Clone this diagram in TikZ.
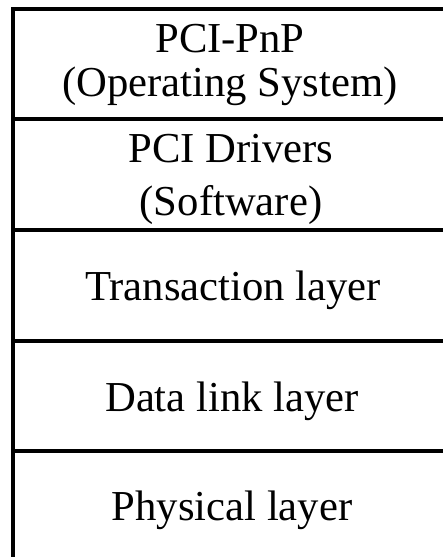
\documentclass[tikz,border=0pt]{standalone}
\usepackage{fontspec}
\setmainfont{Liberation Serif}
\begin{document}
\begin{tikzpicture}[x=0.75pt,y=-0.75pt,
  rule/.style={line width=3.3pt,black},
  label/.style={anchor=base,inner sep=0pt,font=\fontsize{32}{36}\selectfont}]
\useasboundingbox (0,0) rectangle (443,557);
% outer frame: top edge and left edge of the stack
\draw[rule] (11,9) -- (443,9);
\draw[rule] (13,7) -- (13,557);
% dividers between layers
\foreach \y in {119,230,341,451} \draw[rule] (13,\y) -- (443,\y);
% layer labels
\node[label] (pnp)  at (230,52)  {PCI-PnP};
\node[label] (os)   at (230,96)  {(Operating System)};
\node[label] (drv)  at (231,162) {PCI Drivers};
\node[label] (sw)   at (231,215) {(Software)};
\node[label] (tl)   at (233,300) {Transaction layer};
\node[label] (dll)  at (232,411) {Data link layer};
\node[label] (phy)  at (232,520) {Physical layer};
\end{tikzpicture}
\end{document}
